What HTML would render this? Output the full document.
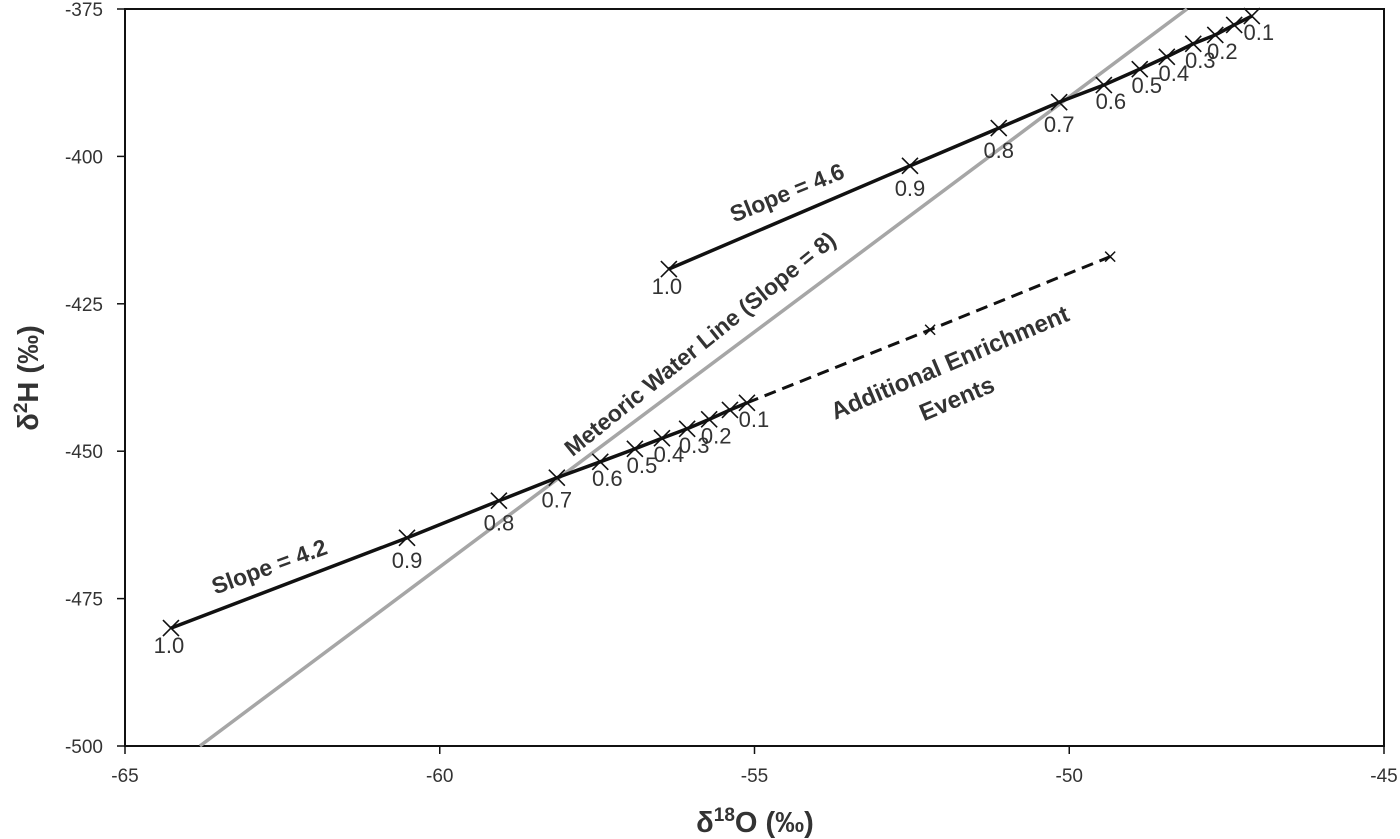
<!DOCTYPE html>
<html><head><meta charset="utf-8"><style>
body{margin:0;background:#fff}
svg{display:block;font-family:"Liberation Sans",sans-serif}
</style></head><body>
<svg id="chart" width="1400" height="839" viewBox="0 0 1400 839">
<g id="axes"></g>
<g id="marks"></g>
<text x="755" y="832" text-anchor="middle" font-size="29" font-weight="bold" fill="#333">δ<tspan dy="-11" font-size="19">18</tspan><tspan dy="11">O (‰)</tspan></text>
<text transform="translate(38,378) rotate(-90)" text-anchor="middle" font-size="29" font-weight="bold" fill="#333">δ<tspan dy="-11" font-size="19">2</tspan><tspan dy="11">H (‰)</tspan></text>
<text transform="translate(790,200) rotate(-22)" text-anchor="middle" font-size="23" font-weight="bold" fill="#333">Slope = 4.6</text>
<text transform="translate(272,574) rotate(-20)" text-anchor="middle" font-size="23" font-weight="bold" fill="#333">Slope = 4.2</text>
<text transform="translate(705,350) rotate(-39)" text-anchor="middle" font-size="23" font-weight="bold" fill="#333">Meteoric Water Line (Slope = 8)</text>
<text transform="translate(953,370) rotate(-23)" text-anchor="middle" font-size="24" font-weight="bold" fill="#333">Additional Enrichment</text>
<text transform="translate(960,406) rotate(-23)" text-anchor="middle" font-size="24" font-weight="bold" fill="#333">Events</text>
</svg>
<script>
const xTicks=[-65,-60,-55,-50,-45];
const yTicks=[-375,-400,-425,-450,-475,-500];
const lowerX=[-64.27,-60.52,-59.06,-58.14,-57.45,-56.90,-56.47,-56.07,-55.72,-55.39,-55.12];
const lowerY=[-480.0,-464.7,-458.4,-454.5,-451.8,-449.6,-447.8,-446.2,-444.6,-443.0,-441.8];
const lowerLabels=["1.0","0.9","0.8","0.7","0.6","0.5","0.4","0.3","0.2","","0.1"];
const upperX=[-56.36,-52.53,-51.12,-50.16,-49.45,-48.88,-48.45,-48.03,-47.68,-47.38,-47.10];
const upperY=[-419.1,-401.6,-395.2,-390.8,-387.9,-385.2,-383.1,-380.9,-379.4,-377.7,-376.2];
const upperLabels=["1.0","0.9","0.8","0.7","0.6","0.5","0.4","0.3","0.2","","0.1"];
const dashX=[-55.12,-52.21,-49.35];
const dashY=[-441.8,-429.4,-417.0];
const mwlX=[-63.81,-48.13];
const mwlY=[-500,-375];
const X0=125,X1=1384,Y0=9,Y1=746;
const sx=v=>X0+(v+65)/20*(X1-X0);
const sy=v=>Y0+(-375-v)/125*(Y1-Y0);
const NS="http://www.w3.org/2000/svg";
function mk(t,a,p){const e=document.createElementNS(NS,t);for(const k in a)e.setAttribute(k,a[k]);p.appendChild(e);return e;}
const ax=document.getElementById('axes'),mg=document.getElementById('marks');
let f=mk('rect',{x:X0,y:Y0,width:X1-X0,height:Y1-Y0,fill:'none',stroke:'#111','stroke-width':2},ax);


xTicks.forEach(v=>{
 const t=mk('line',{x1:sx(v),x2:sx(v),y1:Y1,y2:Y1+8,stroke:'#111','stroke-width':1.5},ax);
 
 
 const l=mk('text',{x:sx(v),y:Y1+36,'text-anchor':'middle','font-size':19,fill:'#333'},ax);l.textContent=v;
 
 
});
yTicks.forEach(v=>{
 const t=mk('line',{x1:X0-8,x2:X0,y1:sy(v),y2:sy(v),stroke:'#111','stroke-width':1.5},ax);
 
 
 const l=mk('text',{x:X0-22,y:sy(v)+7,'text-anchor':'end','font-size':19,fill:'#333'},ax);l.textContent=v;
 
 
});
const m=mk('line',{x1:sx(mwlX[0]),y1:sy(mwlY[0]),x2:sx(mwlX[1]),y2:sy(mwlY[1]),stroke:'#a6a6a6','stroke-width':3.5},mg);


const d=mk('polyline',{points:dashX.map((x,i)=>sx(x)+','+sy(dashY[i])).join(' '),fill:'none',stroke:'#111','stroke-width':3,'stroke-dasharray':'12,7'},mg);


dashX.slice(1).forEach((x,i)=>{const px=sx(x),py=sy(dashY[i+1]);
 const t=mk('path',{d:`M${px-5},${py-5}L${px+5},${py+5}M${px-5},${py+5}L${px+5},${py-5}`,stroke:'#111','stroke-width':1.5},mg);
 
 });
function series(xs,ys,labs,name){
 const p=mk('polyline',{points:xs.map((x,i)=>sx(x)+','+sy(ys[i])).join(' '),fill:'none',stroke:'#111','stroke-width':3.5},mg);
 
 
 xs.forEach((x,i)=>{const px=sx(x),py=sy(ys[i]);
  const c=mk('path',{d:`M${px-8},${py-8}L${px+8},${py+8}M${px-8},${py+8}L${px+8},${py-8}`,stroke:'#111','stroke-width':1.6},mg);
  
  
  if(labs[i]){const off=i==0?[-2,25]:(i<4?[0,30]:[7,24]);
   const l=mk('text',{x:px+off[0],y:py+off[1],'text-anchor':'middle','font-size':22,fill:'#333'},mg);l.textContent=labs[i];
   
   }
 });
}
series(lowerX,lowerY,lowerLabels,'lower-series');
series(upperX,upperY,upperLabels,'upper-series');
</script>
</body></html>
